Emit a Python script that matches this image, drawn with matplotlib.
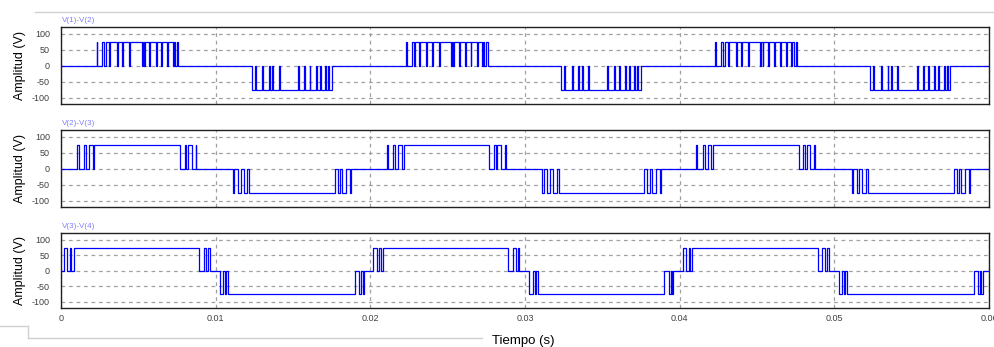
import numpy as np
import matplotlib
matplotlib.use("Agg")
import matplotlib.pyplot as plt

# switching segments, in ms, for one period (repeats every 20 ms)
# V(1)-V(2): positive burst and negative burst
v12_pos = [(2.30, 2.36), (2.67, 2.80), (2.90, 3.12), (3.18, 3.62), (3.68, 3.97),
           (4.03, 4.42), (4.48, 5.22), (5.28, 5.36), (5.41, 5.72), (5.78, 6.12),
           (6.18, 6.48), (6.54, 6.88), (6.94, 7.22), (7.28, 7.36), (7.50, 7.58)]
v12_neg = [(12.33, 12.52), (12.58, 13.02), (13.08, 13.44), (13.50, 13.67), (13.73, 14.07),
           (14.13, 15.32), (15.38, 15.74), (15.80, 16.07), (16.13, 16.47), (16.53, 16.72),
           (16.78, 17.07), (17.13, 17.27), (17.33, 17.50)]

# V(2)-V(3)
v23_pos = [(1.05, 1.14), (1.48, 1.62), (1.80, 2.05), (2.15, 7.69), (8.00, 8.10),
           (8.22, 8.45), (8.70, 8.76)]
v23_neg = [(11.12, 11.20), (11.45, 11.62), (11.80, 12.05), (12.18, 17.72), (17.90, 18.05),
           (18.20, 18.45), (18.70, 18.76)]

# V(3)-V(4)
v34_pos = [(0.20, 0.42), (0.58, 0.66), (0.82, 8.92), (9.22, 9.40), (9.52, 9.63)]
v34_neg = [(10.28, 10.50), (10.62, 10.70), (10.82, 19.00), (19.28, 19.42), (19.50, 19.58)]

period_start = [0.0, 20.0, 40.0]   # ms
level = 75.0                       # V
t_end = 60.0                       # ms

names = ["V(1)-V(2)", "V(2)-V(3)", "V(3)-V(4)"]
bursts = [(v12_pos, v12_neg), (v23_pos, v23_neg), (v34_pos, v34_neg)]

x_ticks = [0, 0.01, 0.02, 0.03, 0.04, 0.05, 0.06]
x_tick_labels = ["0", "0.01", "0.02", "0.03", "0.04", "0.05", "0.06"]
y_ticks = [-100, -50, 0, 50, 100]


def build_wave(pos, neg):
    t = [0.0]
    v = [0.0]
    for p0 in period_start:
        for segs, lev in ((pos, level), (neg, -level)):
            for s, e in segs:
                t.append((p0 + s) / 1000.0)
                v.append(lev)
                t.append((p0 + e) / 1000.0)
                v.append(0.0)
    t.append(t_end / 1000.0)
    v.append(0.0)
    return np.array(t), np.array(v)


plt.rcParams['font.family'] = ['Liberation Sans', 'DejaVu Sans']

fig = plt.figure(figsize=(9.95, 3.47), dpi=100)

# axes boxes in figure fraction (left, bottom, width, height)
boxes = [(0.0613, 0.7003, 0.9327, 0.2219),
         (0.0613, 0.4035, 0.9327, 0.2219),
         (0.0613, 0.1124, 0.9327, 0.2161)]

for i in range(3):
    ax = fig.add_axes(boxes[i])
    t, v = build_wave(*bursts[i])
    ax.plot(t, v, drawstyle='steps-post', color='#0000ff', lw=0.9)
    ax.set_xlim(0, 0.06)
    ax.set_ylim(-120, 122)
    ax.set_yticks(y_ticks)
    ax.set_yticklabels([str(y) for y in y_ticks])
    ax.set_xticks(x_ticks)
    ax.grid(True, color='#a0a0a0', linestyle=(0, (3, 3)), lw=0.9)
    ax.tick_params(length=0, labelsize=6.5, colors='#404040', pad=8)
    ax.tick_params(axis='x', pad=4)
    for sp in ax.spines.values():
        sp.set_linewidth(1.0)
        sp.set_color('#202020')
    ax.set_ylabel("Amplitud (V)", fontsize=9)
    ax.yaxis.set_label_coords(-0.038, 0.5)
    ax.text(0.001, 1.04, names[i], transform=ax.transAxes, fontsize=5.8,
            color='#8080ff', ha='left', va='bottom')
    if i < 2:
        ax.set_xticklabels([])
    else:
        ax.set_xticklabels(x_tick_labels)

fig.text(0.526, 0.0, "Tiempo (s)", fontsize=9.5, ha='center', va='bottom')

# window frame lines around the plot area
frame = dict(color='#d0d0d0', lw=1.0)
fig.add_artist(plt.Line2D([35 / 995, 1.0], [1 - 12 / 347, 1 - 12 / 347], **frame))
fig.add_artist(plt.Line2D([0, 28 / 995], [1 - 326 / 347, 1 - 326 / 347], **frame))
fig.add_artist(plt.Line2D([28 / 995, 28 / 995], [1 - 326 / 347, 1 - 338 / 347], **frame))
fig.add_artist(plt.Line2D([28 / 995, 482 / 995], [1 - 338 / 347, 1 - 338 / 347], **frame))

fig.savefig("out.png", dpi=100)
